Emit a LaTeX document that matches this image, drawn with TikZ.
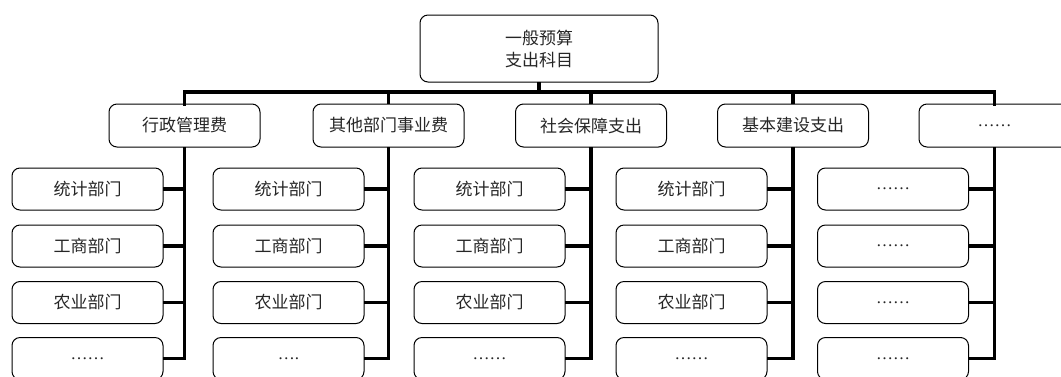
\documentclass[tikz,border=0pt]{standalone}
\usepackage{fontspec}
\newfontfamily\cjk{Noto Sans CJK SC}
\newfontfamily\lat{Liberation Serif}
\begin{document}
\begin{tikzpicture}[x=1pt,y=-1pt,
  box/.style={draw=black,line width=1pt,rounded corners=8pt,minimum width=151pt,minimum height=42pt,inner sep=0pt,outer sep=0pt,font=\cjk\fontsize{17}{22}\selectfont,text=black!85},
  topbox/.style={box,minimum width=238pt,minimum height=67pt,align=center},
  dots/.style={box,font=\lat\fontsize{17}{22}\selectfont},
  link/.style={line width=3.5pt,line cap=rect}]
\useasboundingbox (0,0) rectangle (1061,376);
\clip (0,0) rectangle (1061,376);
\node[topbox] (top) at (539,48.5) {一般预算\\支出科目};
\coordinate (bus) at (539,92);
% level 2
\node[box,minimum height=43pt] (a) at (184.5,125.5) {行政管理费};
\node[box,minimum height=43pt] (b) at (388.5,125.5) {其他部门事业费};
\node[box,minimum height=43pt] (c) at (591,125.5) {社会保障支出};
\node[box,minimum height=43pt] (d) at (793,125.5) {基本建设支出};
\node[dots,minimum height=43pt] (e) at (994.5,125.5) {……};
% level 3
\foreach \col/\x in {a/87.5,b/288.5,c/489.5,d/691.5}{
  \node[box] (\col1) at (\x,189) {统计部门};
  \node[box] (\col2) at (\x,246) {工商部门};
  \node[box] (\col3) at (\x,302.5) {农业部门};
}
\node[dots] (a4) at (87.5,358.5) {……};
\node[dots] (b4) at (288.5,358.5) {….};
\node[dots] (c4) at (489.5,358.5) {……};
\node[dots] (d4) at (691.5,358.5) {……};
\foreach \r/\y in {1/189,2/246,3/302.5,4/358.5}{
  \node[dots] (e\r) at (893,\y) {……};
}
% connectors
\draw[link,line cap=butt] (top.south) -- (bus);
\draw[link] (a.north) -- (a.north |- bus) -- (e.north |- bus) -- (e.north);
\foreach \n in {b,c,d}{
  \draw[link,line cap=butt] (\n.north) -- (\n.north |- bus);
}
\foreach \n in {a,b,c,d,e}{
  \draw[link,line cap=butt] (\n.south) |- (\n4.east);
  \draw[link,line cap=butt] (\n1.east) -- (\n1.east -| \n.south);
  \draw[link,line cap=butt] (\n2.east) -- (\n2.east -| \n.south);
  \draw[link,line cap=butt] (\n3.east) -- (\n3.east -| \n.south);
}
\end{tikzpicture}
\end{document}
